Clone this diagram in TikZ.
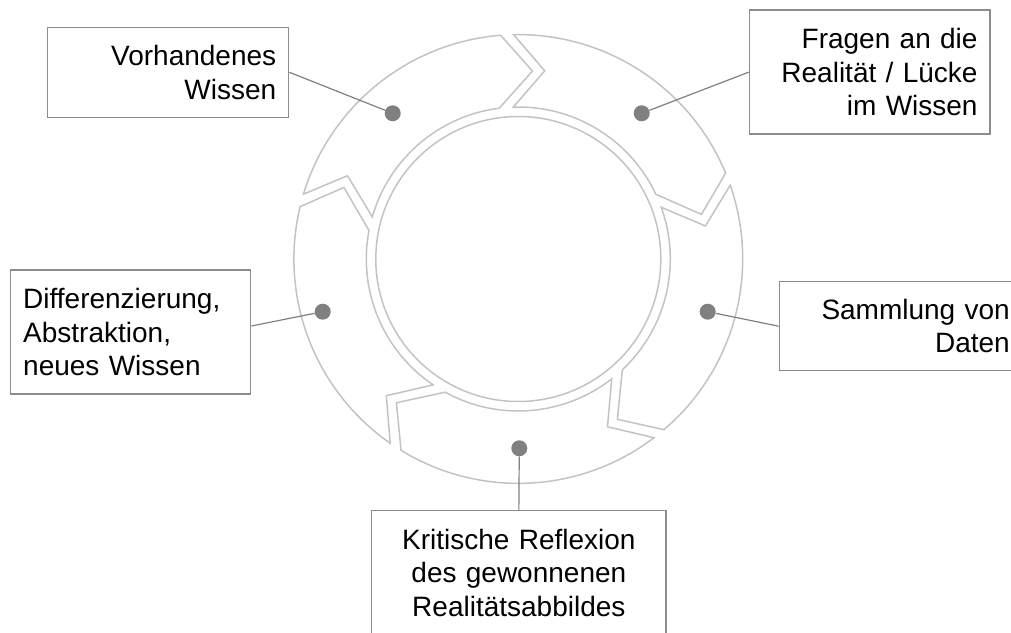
\documentclass[tikz,border=0pt]{standalone}
\usepackage{fontspec}
\setmainfont{Liberation Sans}
\definecolor{ringgray}{HTML}{C3C3C3}
\definecolor{linegray}{HTML}{7F7F7F}
\definecolor{boxgray}{HTML}{8C8C8C}
\definecolor{dotgray}{HTML}{808080}
\begin{document}
\begin{tikzpicture}[x=1pt,y=1pt,
  ring/.style={draw=ringgray, line width=1.5pt, line join=miter},
  labelbox/.style={draw=boxgray, line width=1.4pt,
    font=\fontsize{28}{33.5}\selectfont,
    minimum height=124pt, inner xsep=12.5pt, inner ysep=0pt},
  dot/.style={circle, fill=dotgray, minimum size=16pt, inner sep=0pt},
  leader/.style={draw=linegray, line width=1.2pt}]
\useasboundingbox (0,0) rectangle (1011,632);
\clip (0,0) rectangle (1011,632);

% cycle ring: inner circle and five clockwise arrow segments
\begin{scope}[shift={(518.3,373)}]
  \draw[ring] (0,0) circle[radius=142.5];
  \foreach \t in {162,90,18,-54,-126}{
    \pgfmathsetmacro{\h}{\t-72}
    \draw[ring] (\t+1.2:224.4)
      arc[start angle=\t+1.2, end angle=\h+4.5, radius=224.4]
      -- (\h-4.3:188.5) -- (\h+7.2:152)
      arc[start angle=\h+7.2, end angle=\t+1.9, radius=152]
      -- (\t-8:190) -- cycle;
  }
\end{scope}

% label boxes
\node[labelbox, text width=216pt, align=right, minimum height=90pt] (vor)
  at (168.2,559.7) {Vorhandenes\\Wissen};
\node[labelbox, text width=215.7pt, align=right] (fra)
  at (869.7,559.8) {Fragen an die\\Realität / Lücke\\im Wissen};
\node[labelbox, text width=215pt, align=left] (dif)
  at (130.7,300) {Differenzierung,\\Abstraktion,\\neues Wissen};
\node[labelbox, text width=218pt, align=right, minimum height=89pt] (sam)
  at (900.8,305.8) {Sammlung von\\Daten};
\node[labelbox, text width=269.3pt, align=center] (kri)
  at (518.85,59.3) {Kritische Reflexion\\des gewonnenen\\Realitätsabbildes};

% markers on the segments
\node[dot] (d1) at (392.7,518.7) {};
\node[dot] (d2) at (641.7,518.7) {};
\node[dot] (d3) at (707.7,320.3) {};
\node[dot] (d4) at (519.3,183.7) {};
\node[dot] (d5) at (322.7,320.3) {};

% leader lines
\draw[leader] (vor.east) -- (d1);
\draw[leader] (fra.west) -- (d2);
\draw[leader] (sam.west) -- (d3);
\draw[leader] (d4) -- (kri.north);
\draw[leader] ([yshift=6pt]dif.east) -- (d5);
\end{tikzpicture}
\end{document}
